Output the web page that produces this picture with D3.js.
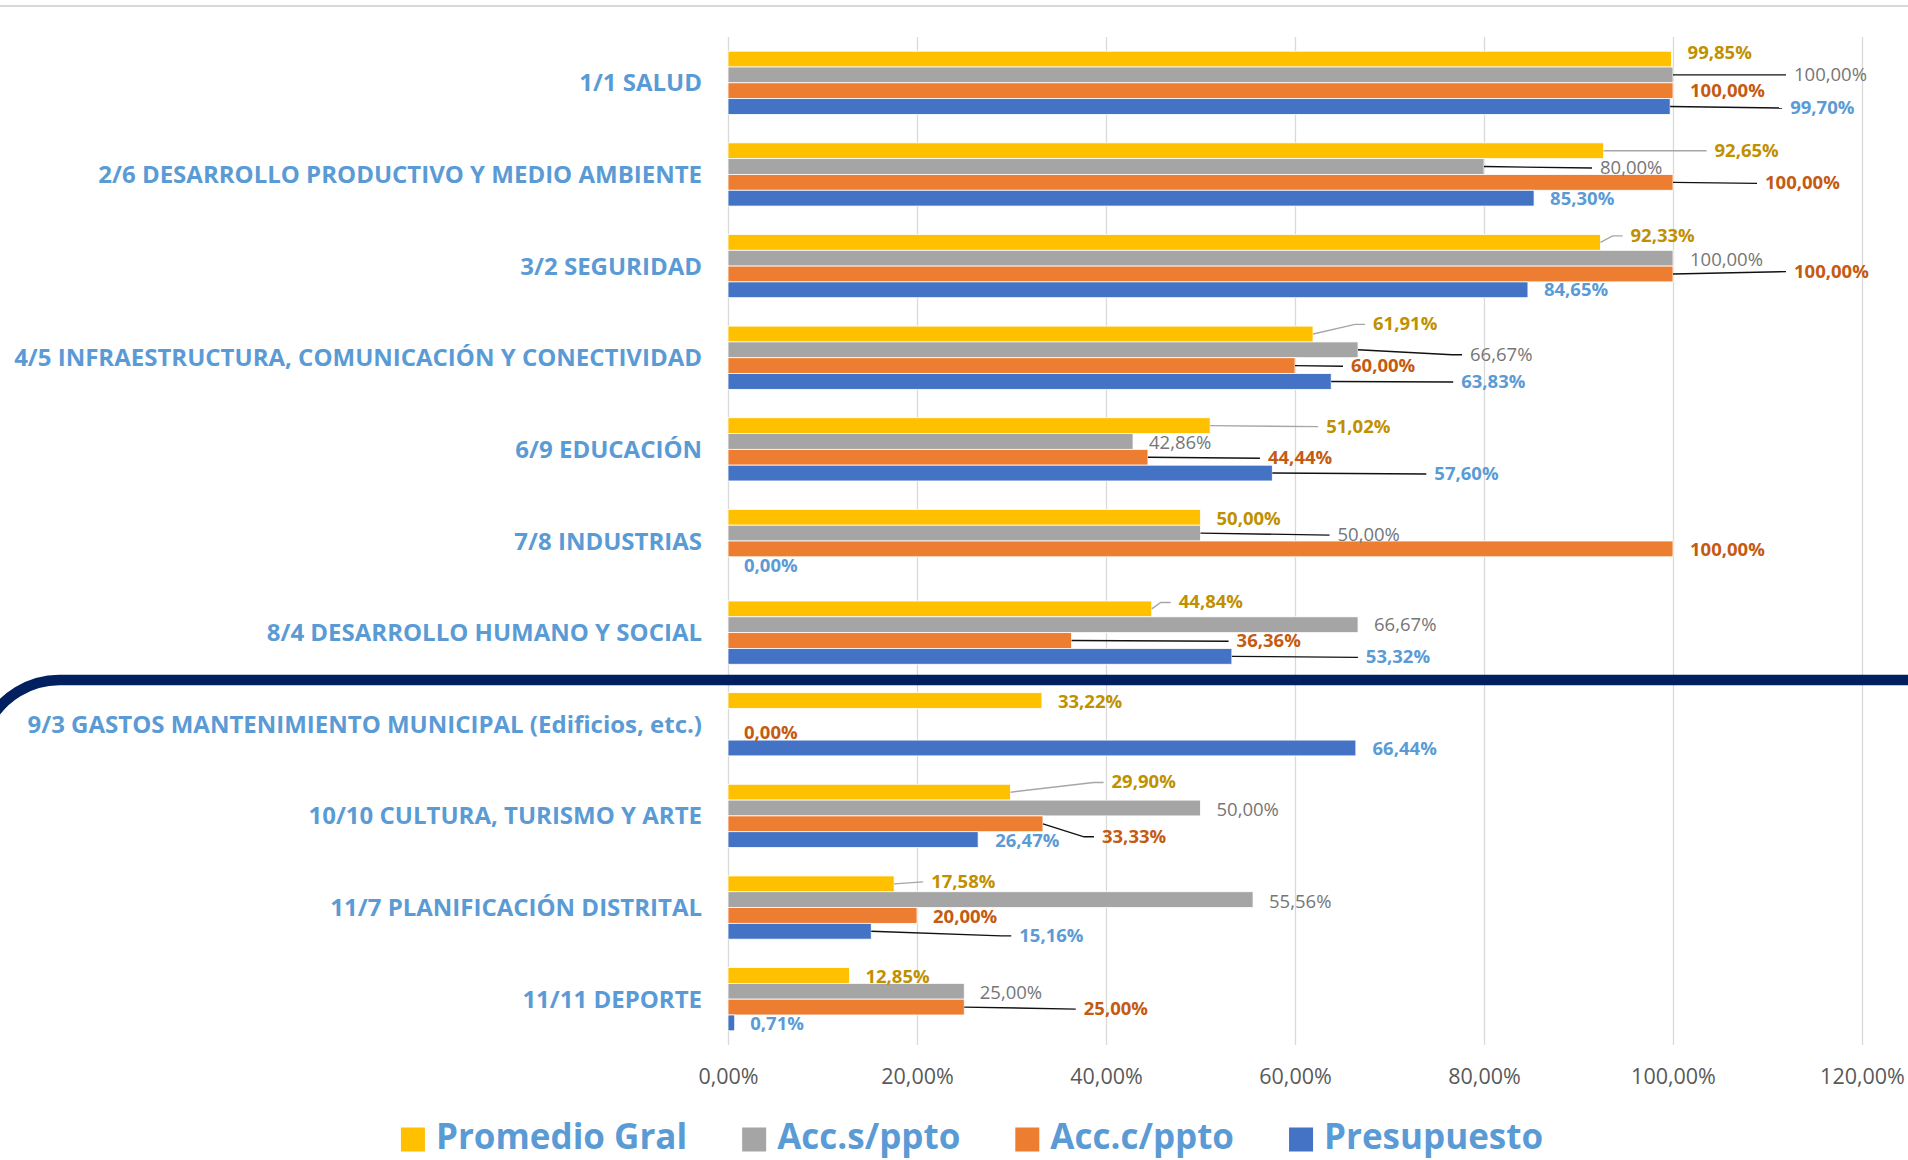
<!DOCTYPE html>
<meta charset="utf-8">
<style>
body { margin: 0; background: #fff; }
text { font-family: "Open Sans", sans-serif; }
.grid line { stroke: #d9d9d9; stroke-width: 1.3; }
.grid text { fill: #595959; font-size: 21.5px; }
</style>
<script src="https://d3js.org/d3.v7.min.js"></script>
<body>
<script>

var categories = [
  "1/1 SALUD",
  "2/6 DESARROLLO PRODUCTIVO Y MEDIO AMBIENTE",
  "3/2 SEGURIDAD",
  "4/5 INFRAESTRUCTURA, COMUNICACIÓN Y CONECTIVIDAD",
  "6/9 EDUCACIÓN",
  "7/8 INDUSTRIAS",
  "8/4 DESARROLLO HUMANO Y SOCIAL",
  "9/3 GASTOS MANTENIMIENTO MUNICIPAL (Edificios, etc.)",
  "10/10 CULTURA, TURISMO Y ARTE",
  "11/7 PLANIFICACIÓN DISTRITAL",
  "11/11 DEPORTE"
];

var seriesNames = ["Promedio Gral", "Acc.s/ppto", "Acc.c/ppto", "Presupuesto"];

var promedioGral = [99.85, 92.65, 92.33, 61.91, 51.02, 50.00, 44.84, 33.22, 29.90, 17.58, 12.85];
var accSinPpto   = [100.00, 80.00, 100.00, 66.67, 42.86, 50.00, 66.67, null, 50.00, 55.56, 25.00];
var accConPpto   = [100.00, 100.00, 100.00, 60.00, 44.44, 100.00, 36.36, 0.00, 33.33, 20.00, 25.00];
var presupuesto  = [99.70, 85.30, 84.65, 63.83, 57.60, 0.00, 53.32, 66.44, 26.47, 15.16, 0.71];

var xTicks = [0, 20, 40, 60, 80, 100, 120];

// where excel dragged the data labels: [dx from bar end, dy from bar centre]
var promNudge = [[16,-6],[111,0],[30,-6.5],[60,-9.6],[116,1],[16,1.5],[27,-6.5],[16,1.4],[101,-9.7],[37,-2],[16,1.6]];
var accsNudge = [[121,0],[116,1.5],[17,1.7],[112,5],[16,1.4],[137,2],[16,0.7],null,[16,2],[16,2.4],[15.5,1.3]];
var accNudge  = [[17,0.7],[92,1],[121,-2.4],[56,0.6],[120,1],[17,1],[165,0.7],[16,1],[59,13],[16,1.6],[119.5,2]];
var presNudge = [[120,1.5],[16,1],[16,0],[130,0.5],[162,1],[16,1.5],[134,1],[16.7,1],[17,1.4],[148,4.6],[15.5,1.2]];

var colors = ["#ffc000", "#a5a5a5", "#ed7d31", "#4472c4"];
var labelColors = ["#bf9000", "#767676", "#c55a11", "#5b9bd5"];
var leaderColors = ["#a6a6a6", "#111", "#111", "#111"];

var width = 1908,
    height = 1160;

var svg = d3.select("body").append("svg")
    .attr("width", width)
    .attr("height", height);

var x = d3.scaleLinear()
    .domain([0, 120])
    .range([728, 1862]);

var y = d3.scaleBand()
    .domain(categories)
    .range([37, 1045])
    .paddingInner(0.31)
    .paddingOuter(0.155);

var ySub = d3.scaleBand()
    .domain(seriesNames)
    .range([0, y.bandwidth()]);

var values = [promedioGral, accSinPpto, accConPpto, presupuesto];
var nudges = [promNudge, accsNudge, accNudge, presNudge];

var fmt = function(v) { return d3.format(".2f")(v).replace(".", ",") + "%"; };

// chart border top
svg.append("line")
    .attr("x1", 0).attr("x2", width)
    .attr("y1", 6).attr("y2", 6)
    .attr("stroke", "#d9d9d9")
    .attr("stroke-width", 2);

// gridlines + tick labels
svg.append("g")
    .attr("class", "grid")
    .attr("transform", "translate(0,1045)")
    .call(d3.axisBottom(x)
      .tickValues(xTicks)
      .tickSize(-1008)
      .tickPadding(24)
      .tickFormat(fmt))
    .select(".domain")
      .remove();

// category labels
svg.append("g")
  .selectAll("text")
  .data(categories)
  .enter().append("text")
    .attr("x", 702)
    .attr("y", function(d) { return y(d) + y.bandwidth() / 2 - 1; })
    .attr("text-anchor", "end")
    .attr("dominant-baseline", "central")
    .attr("font-size", "24px")
    .attr("font-weight", "bold")
    .attr("fill", "#5b9bd5")
    .text(function(d) { return d; });

// rows of flat records
var rows = [];
categories.forEach(function(c, i) {
  seriesNames.forEach(function(s, j) {
    if (values[j][i] == null) return;
    rows.push({cat: c, s: s, j: j, v: values[j][i], n: nudges[j][i] || [16, 1]});
  });
});

svg.append("g")
  .selectAll("rect")
  .data(rows)
  .enter().append("rect")
    .attr("x", x(0))
    .attr("y", function(d) { return y(d.cat) + ySub(d.s); })
    .attr("width", function(d) { return x(d.v) - x(0); })
    .attr("height", ySub.bandwidth())
    .attr("fill", function(d) { return colors[d.j]; })
    .attr("stroke", "#fff")
    .attr("stroke-width", 0.8);

// divider (navy line with rounded left corner)
svg.append("path")
    .attr("d", "M -12,724 A 80 80 0 0 1 60,680 L " + width + ",680")
    .attr("fill", "none")
    .attr("stroke", "#002060")
    .attr("stroke-width", 10.5);

// leader lines for labels dragged away from the bar
svg.append("g")
  .selectAll("path")
  .data(rows.filter(function(d) { return d.n[0] > 24; }))
  .enter().append("path")
    .attr("d", function(d) {
      var x0 = x(d.v), y0 = y(d.cat) + ySub(d.s) + ySub.bandwidth() / 2;
      var lx = x0 + d.n[0], ly = y0 + d.n[1];
      if (Math.abs(d.n[1]) > 3)
        return "M" + x0 + "," + y0 + "L" + (lx - 18) + "," + ly + "L" + (lx - 8) + "," + ly;
      return "M" + x0 + "," + y0 + "L" + (lx - 8) + "," + ly;
    })
    .attr("fill", "none")
    .attr("stroke", function(d) { return leaderColors[d.j]; })
    .attr("stroke-width", 1.4);

// data labels
svg.append("g")
  .selectAll("text")
  .data(rows)
  .enter().append("text")
    .attr("x", function(d) { return x(d.v) + d.n[0]; })
    .attr("y", function(d) { return y(d.cat) + ySub(d.s) + ySub.bandwidth() / 2 + d.n[1] - 1.5; })
    .attr("dominant-baseline", "central")
    .attr("font-size", "18.5px")
    .attr("font-weight", function(d) { return d.j == 1 ? "normal" : "bold"; })
    .attr("fill", function(d) { return labelColors[d.j]; })
    .text(function(d) { return fmt(d.v); });

// legend
var legend = svg.append("g").attr("transform", "translate(0,1135.5)");

var items = legend.selectAll("g")
  .data(seriesNames)
  .enter().append("g");

items.append("rect")
    .attr("y", -8)
    .attr("width", 24)
    .attr("height", 24)
    .attr("fill", function(d, i) { return colors[i]; });

items.append("text")
    .attr("x", 35)
    .attr("dominant-baseline", "central")
    .attr("font-size", "35px")
    .attr("font-weight", "bold")
    .attr("fill", "#5b9bd5")
    .text(function(d) { return d; });

var pos = 0, offsets = [];
items.each(function() {
  offsets.push(pos);
  pos += 35 + this.querySelector("text").getComputedTextLength() + 55;
});
pos -= 55;
var start = 972 - pos / 2;
items.attr("transform", function(d, i) { return "translate(" + (start + offsets[i]) + ",0)"; });

</script>
